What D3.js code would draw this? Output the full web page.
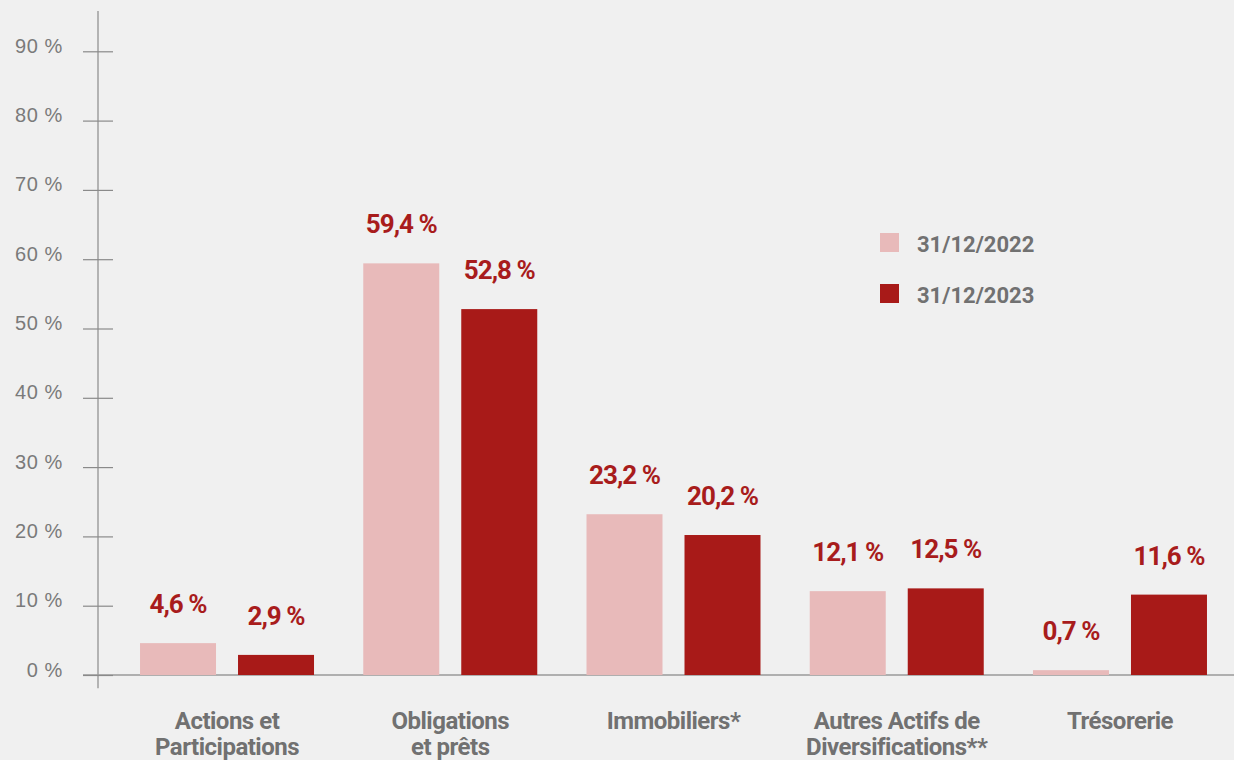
<!DOCTYPE html>
<html>
<head>
<meta charset="utf-8">
<script src="https://cdn.jsdelivr.net/npm/d3@7"></script>
<style>
  body { margin: 0; background: #f0f0f0; }
  svg { display: block; }
</style>
</head>
<body>
<script>
var width = 1234,
    height = 760;

// data
var categories = [["Actions et", "Participations"], ["Obligations", "et prêts"], ["Immobiliers*"], ["Autres Actifs de", "Diversifications**"], ["Trésorerie"]];
var series = ["31/12/2022", "31/12/2023"];
var values2022 = [4.6, 59.4, 23.2, 12.1, 0.7];
var values2023 = [2.9, 52.8, 20.2, 12.5, 11.6];
var yTicks = [0, 10, 20, 30, 40, 50, 60, 70, 80, 90];

var colors = ["#e8baba", "#a81a18"];
var fmt = function(v) { return d3.format(".1f")(v).replace(".", ",") + " %"; };

var svg = d3.select("body").append("svg")
    .attr("width", width)
    .attr("height", height)
    .style("background", "#f0f0f0");

var y = d3.scaleLinear()
    .domain([0, 90])
    .range([675, 51.3]);

var x = d3.scaleBand()
    .domain(d3.range(categories.length))
    .range([115.4, 1231.6])
    .paddingInner(0.2206)
    .paddingOuter(0.1103);

var xs = d3.scaleBand()
    .domain(series)
    .range([0, x.bandwidth()])
    .paddingInner(0.2245);

// y axis line
svg.append("line")
    .attr("x1", 98).attr("x2", 98)
    .attr("y1", y(-1.9)).attr("y2", y(95.8))
    .attr("stroke", "#8a8a8a")
    .attr("stroke-width", 1.2);

// baseline
svg.append("line")
    .attr("x1", 83).attr("x2", width)
    .attr("y1", y(0)).attr("y2", y(0))
    .attr("stroke", "#9a9a9a")
    .attr("stroke-width", 1.5);

var yAxis = svg.append("g")
    .attr("transform", "translate(113,0)")
    .call(d3.axisLeft(y).tickValues(yTicks).tickSize(30).tickPadding(20)
      .tickFormat(function(d) { return d + " %"; }));

yAxis.select(".domain").remove();
yAxis.selectAll(".tick line")
    .attr("stroke", "#8a8a8a")
    .attr("stroke-width", 1.2);
yAxis.selectAll(".tick text")
    .attr("fill", "#7a7a7a")
    .attr("dy", "0.05em")
    .style("font-family", "'Liberation Sans', Arial, sans-serif")
    .style("font-size", "20px")
    .style("letter-spacing", "0.6px");

// bars
var data = categories.map(function(c, i) {
  return { i: i, vals: [values2022[i], values2023[i]] };
});

var groups = svg.selectAll(".grp")
    .data(data)
    .enter().append("g")
      .attr("class", "grp")
      .attr("transform", function(d) { return "translate(" + x(d.i) + ",0)"; });

groups.selectAll("rect")
    .data(function(d) { return d.vals.map(function(v, k) { return { s: series[k], v: v, k: k }; }); })
    .enter().append("rect")
      .attr("x", function(d) { return xs(d.s); })
      .attr("y", function(d) { return y(d.v); })
      .attr("width", xs.bandwidth())
      .attr("height", function(d) { return y(0) - y(d.v); })
      .attr("fill", function(d) { return colors[d.k]; });

groups.selectAll(".val")
    .data(function(d) { return d.vals.map(function(v, k) { return { s: series[k], v: v, k: k }; }); })
    .enter().append("text")
      .attr("class", "val")
      .attr("x", function(d) { return xs(d.s) + xs.bandwidth() / 2; })
      .attr("y", function(d) { return y(d.v) - 30; })
      .attr("text-anchor", "middle")
      .attr("fill", "#a81c1c")
      .style("font-family", "Roboto, sans-serif")
      .style("font-weight", "bold")
      .style("font-size", "26px")
      .style("letter-spacing", "-1px")
      .text(function(d) { return fmt(d.v); });

// category labels
groups.append("text")
    .attr("text-anchor", "middle")
    .attr("fill", "#717171")
    .style("font-family", "Roboto, sans-serif")
    .style("font-weight", "bold")
    .style("font-size", "24px")
    .style("letter-spacing", "-0.5px")
    .selectAll("tspan")
    .data(function(d) { return categories[d.i]; })
    .enter().append("tspan")
      .attr("x", x.bandwidth() / 2)
      .attr("y", function(d, j) { return 729 + j * 26; })
      .text(function(d) { return d; });

// legend
var legend = svg.selectAll(".leg")
    .data(series)
    .enter().append("g")
      .attr("class", "leg")
      .attr("transform", function(d, i) { return "translate(880," + (233 + i * 51) + ")"; });

legend.append("rect")
    .attr("width", 19)
    .attr("height", 19)
    .attr("fill", function(d, i) { return colors[i]; });

legend.append("text")
    .attr("x", 37)
    .attr("y", 19)
    .attr("fill", "#717171")
    .style("font-family", "Roboto, sans-serif")
    .style("font-weight", "bold")
    .style("font-size", "22px")
    .text(function(d) { return d; });
</script>
</body>
</html>
